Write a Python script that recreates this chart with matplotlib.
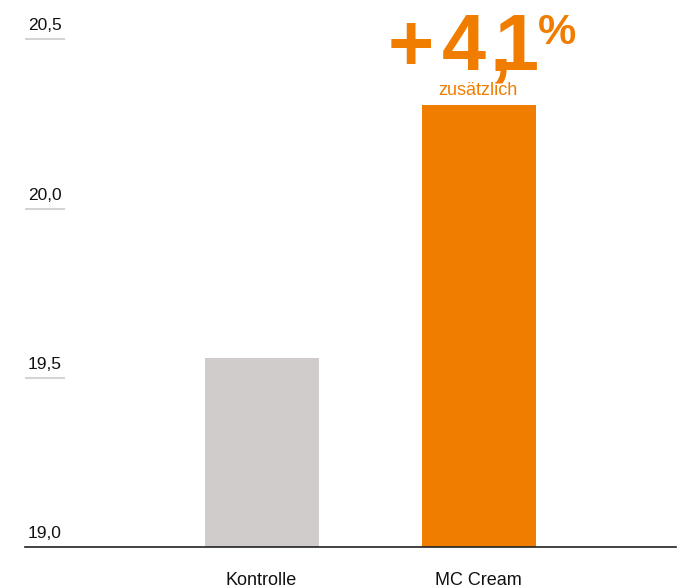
import matplotlib
matplotlib.use('Agg')
import matplotlib.pyplot as plt

# data
categories = ['Kontrolle', 'MC Cream']
values = [19.56, 20.305]
bar_colors = ['#D0CCCB', '#F07D00']
ytick_vals = [19.0, 19.5, 20.0, 20.5]
ytick_labels = ['19,0', '19,5', '20,0', '20,5']
increase_chars = ['+', '4', ',', '1']
increase_sub = 'zusätzlich'

ORANGE = '#F07D00'
plt.rcParams['font.family'] = ['Liberation Sans', 'DejaVu Sans']

fig = plt.figure(figsize=(6.87, 5.88), dpi=100)
ax = fig.add_axes([25 / 687, 0.0689, 651 / 687, 0.9224])

x = list(range(len(categories)))
ax.bar(x, values, width=0.525, color=bar_colors, bottom=0)
ax.set_ylim(19.0, 20.6)
ax.set_xlim(-1.089, 1.908)

# only the base line
for s in ['top', 'right', 'left']:
    ax.spines[s].set_visible(False)
ax.spines['bottom'].set_color('#222222')
ax.spines['bottom'].set_linewidth(1.2)
ax.set_yticks([])
ax.set_xticks(x)
ax.set_xticklabels(categories, fontsize=13, color='#111111')
ax.tick_params(axis='x', length=0, pad=18)

# short grey tick lines with labels above
for v, lab in zip(ytick_vals, ytick_labels):
    if v > 19.0:
        ax.axhline(v, xmin=0.0015, xmax=0.06, color='#D5D3D3', lw=1.5)
    ax.annotate(lab, xy=(0.0046, v), xycoords=('axes fraction', 'data'),
                xytext=(0, 6), textcoords='offset pixels',
                ha='left', va='bottom', fontsize=12.5, color='#111111')

# increase annotation above the MC Cream bar, glyphs set tight like the original
top = values[1]
ax.annotate(increase_sub, xy=(1, top), xytext=(-1, 10), textcoords='offset pixels',
            ha='center', va='baseline', fontsize=13, color=ORANGE)
char_dx = [-91, -37, 11, 16]
for ch, dx in zip(increase_chars, char_dx):
    ax.annotate(ch, xy=(1, top), xytext=(dx, 35), textcoords='offset pixels',
                ha='left', va='baseline', fontsize=57, fontweight='bold', color=ORANGE)
ax.annotate('%', xy=(1, top), xytext=(59, 92), textcoords='offset pixels',
            ha='left', va='top', fontsize=31, fontweight='bold', color=ORANGE)

plt.savefig('out.png', dpi=100)
